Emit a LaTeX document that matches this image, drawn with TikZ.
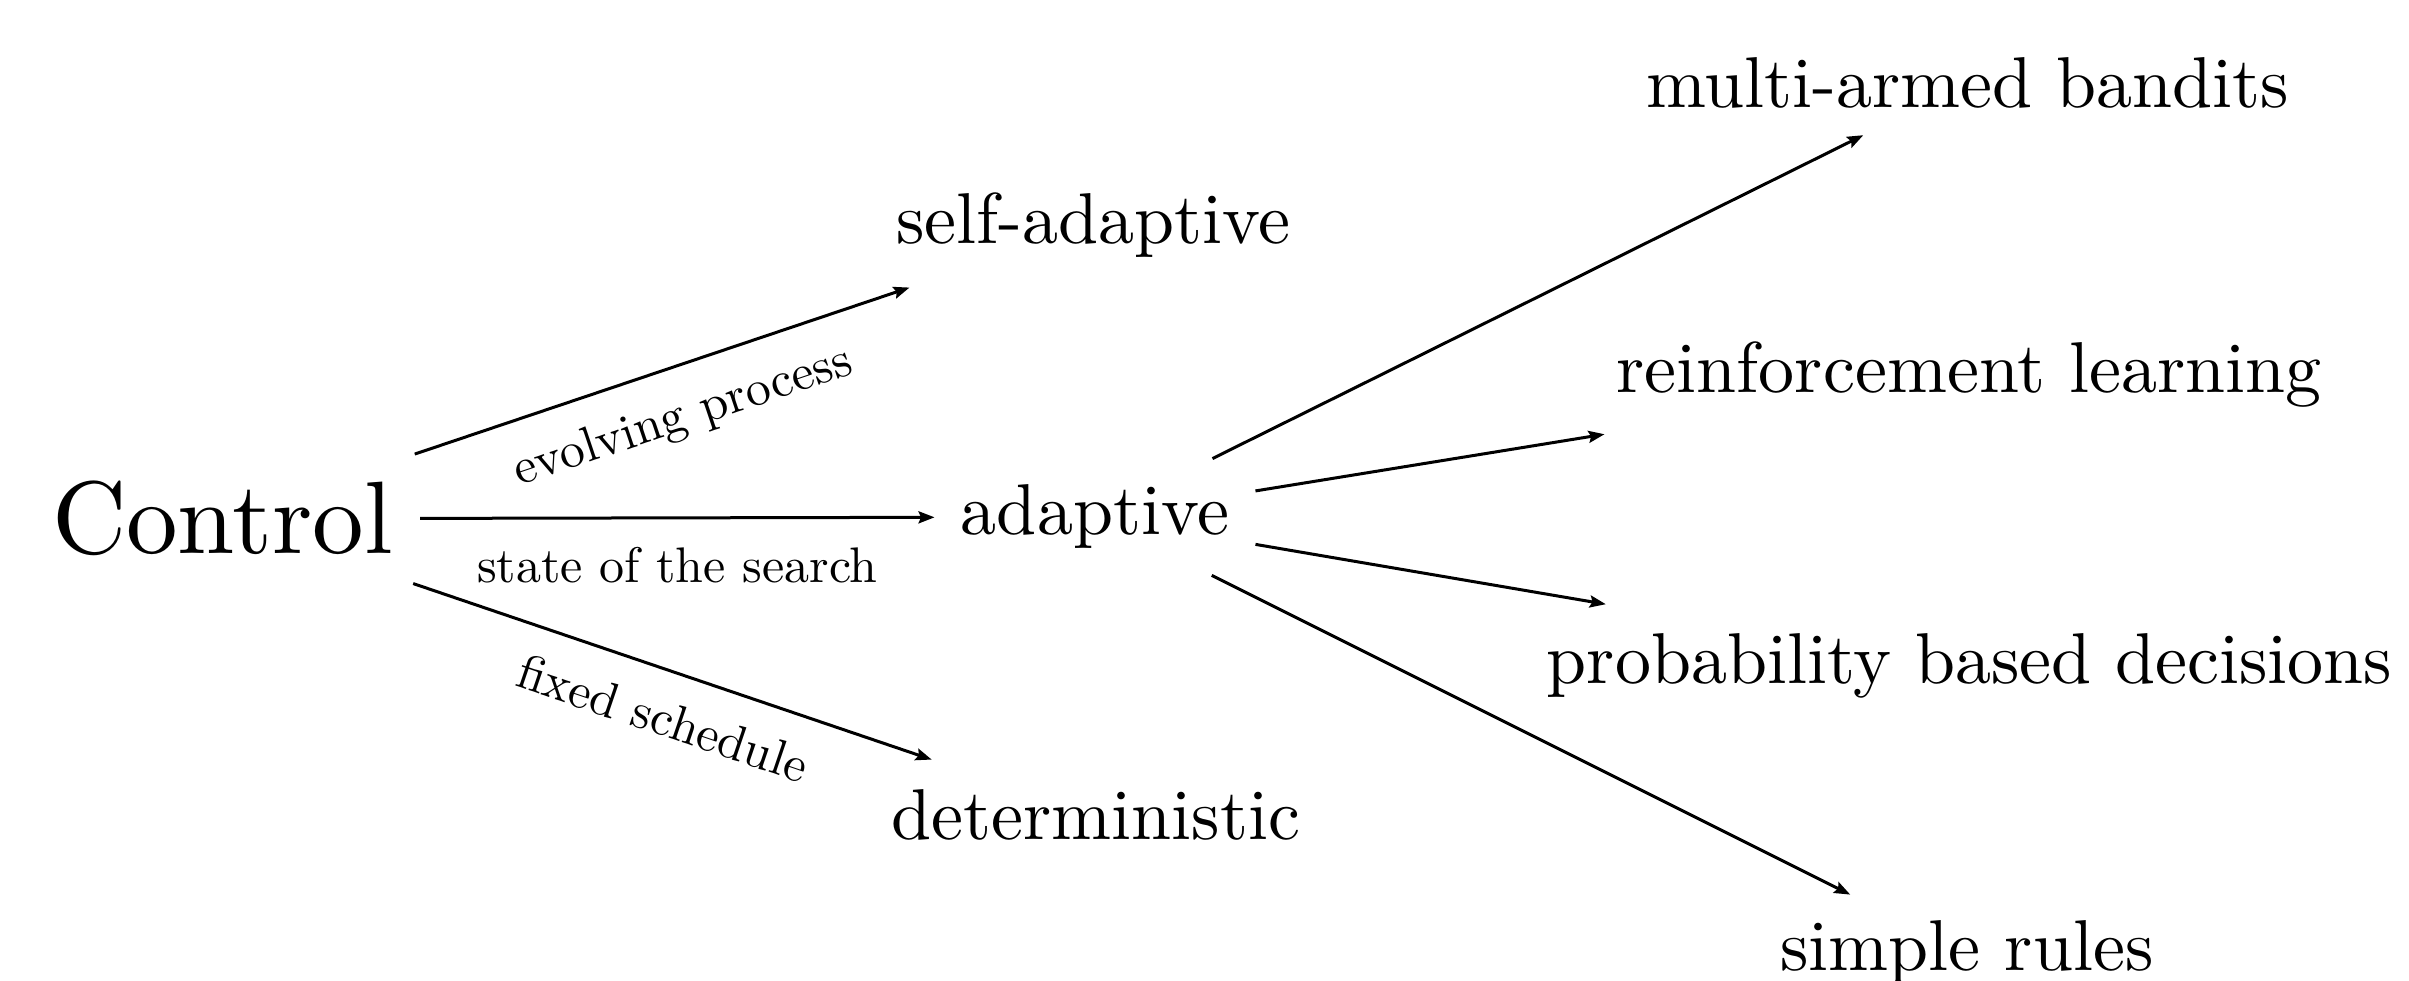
\documentclass[tikz,border=0pt]{standalone}
\usetikzlibrary{arrows.meta}
\begin{document}
\begin{tikzpicture}[x=0.2pt,y=-0.2pt,
  term/.style={font=\normalsize, scale=1.44, inner sep=3.47pt},
  root/.style={font=\normalsize, scale=2.06, inner sep=2.45pt},
  link/.style={line width=0.6pt, -{Stealth[length=3.2pt,width=2.4pt,inset=0.5pt]}},
  edgelabel/.style={font=\normalsize, inner sep=5.5pt, midway, below}
]
\useasboundingbox (0,0) rectangle (2409,981);

% root and first level
\node[root, anchor=base] (ctrl) at (222.5,554) {Control};
\node[term, anchor=base] (self) at (1093.5,244) {self-adaptive};
\node[term, anchor=base] (adap) at (1095,535) {adaptive};
\node[term, anchor=base] (det)  at (1096,840) {deterministic};

% kinds of adaptive control
\node[term, anchor=base] (mab) at (1967.5,108) {multi-armed bandits};
\node[term, anchor=base] (rl)  at (1969,393) {reinforcement learning};
\node[term, anchor=base] (pbd) at (1969.5,684) {probability based decisions};
\node[term, anchor=base] (sr)  at (1967,971) {simple rules};

% connectors
\draw[link, shorten >=2pt] (ctrl) -- node[edgelabel, sloped] {evolving process} (self);
\draw[link] (ctrl) -- node[edgelabel] {state of the search} (adap);
\draw[link, shorten >=2.5pt] (ctrl) -- node[edgelabel, sloped] {fixed schedule} (det);

\draw[link] (adap) -- (mab);
\draw[link] (adap) -- (rl);
\draw[link, shorten >=4pt] (adap) -- (pbd);
\draw[link] (adap) -- (sr);
\end{tikzpicture}
\end{document}
